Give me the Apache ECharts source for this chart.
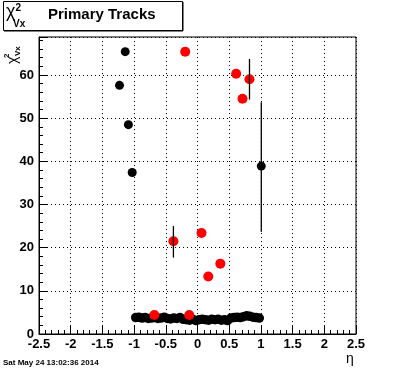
<!DOCTYPE html>
<html><head><meta charset="utf-8">
<script src="https://cdn.jsdelivr.net/npm/echarts@6/dist/echarts.min.js"></script>
<style>html,body{margin:0;padding:0;background:#fff}#c{width:396px;height:372px}</style>
</head><body><div id="c"></div>
<script>
// ---- data ----
const xTicks = [-2.5,-2,-1.5,-1,-0.5,0,0.5,1,1.5,2,2.5];
const yTicks = [0,10,20,30,40,50,60];
// black series (main band)
const bandEta = [-0.975,-0.925,-0.875,-0.825,-0.775,-0.725,-0.675,-0.625,-0.575,-0.525,-0.475,-0.425,-0.375,-0.325,-0.275,-0.225,-0.175,-0.125,-0.075,-0.025,0.025,0.075,0.125,0.175,0.225,0.275,0.325,0.375,0.425,0.475,0.525,0.575,0.625,0.675,0.725,0.775,0.825,0.875,0.925,0.975];
const bandChi = [3.8,3.9,3.7,3.8,3.6,3.7,3.8,3.6,3.7,3.9,3.6,3.5,3.7,3.6,3.8,3.4,3.3,3.2,3.4,3.1,3.3,3.4,3.3,3.2,3.4,3.3,3.4,3.2,3.3,3.1,3.7,3.8,3.9,3.8,4.0,4.2,4.1,3.9,3.8,3.7];
// black outliers
const blackEta = [-1.14,-1.23,-1.09,-1.03,1.006];
const blackChi = [65.4,57.6,48.5,37.4,38.9];
const blackErrEta = [1.006];
const blackErrLo = [23.7];
const blackErrHi = [53.7];
// red series
const redEta = [-0.194,0.61,0.82,0.71,-0.38,0.063,0.36,0.17,-0.68,-0.13];
const redChi = [65.4,60.3,59.0,54.5,21.5,23.4,16.3,13.3,4.4,4.4];
const redErrEta = [0.82,-0.38];
const redErrLo = [54.3,17.7];
const redErrHi = [63.7,25.0];

const FONT = '"Liberation Sans", Arial, sans-serif';
const chart = echarts.init(document.getElementById('c'), null, {renderer:'canvas'});

function pairs(xs, ys){ return xs.map((x,i)=>[x, ys[i]]); }
function errData(xs, lo, hi){ return xs.map((x,i)=>[x, lo[i], hi[i]]); }
function errRender(params, api){
  const p1 = api.coord([api.value(0), api.value(1)]);
  const p2 = api.coord([api.value(0), api.value(2)]);
  return {type:'line', shape:{x1:p1[0], y1:p1[1], x2:p2[0], y2:p2[1]}, style:{stroke:'#000', lineWidth:1.3}};
}
const dot = c => ({color:c, opacity:1, borderWidth:0});

const grid = {left:39, right:40, top:37, bottom:38, show:true, borderColor:'#000', borderWidth:1, backgroundColor:'transparent'};

chart.setOption({
  animation:false,
  grid: grid,
  xAxis: {
    type:'value', min:xTicks[0], max:xTicks[xTicks.length-1], interval:0.5,
    axisLine:{show:true, onZero:false, lineStyle:{color:'#000', width:1}},
    axisTick:{show:true, inside:true, length:8, lineStyle:{color:'#000'}},
    minorTick:{show:true, splitNumber:5, length:4, lineStyle:{color:'#000'}},
    splitLine:{show:true, lineStyle:{color:'#000', type:[1,3], width:1}},
    axisLabel:{color:'#000', fontFamily:FONT, fontWeight:'bold', fontSize:13, margin:4,
      formatter: v => String(+v.toFixed(1))}
  },
  yAxis: {
    type:'value', min:yTicks[0], max:68.8, interval:10,
    axisLine:{show:true, onZero:false, lineStyle:{color:'#000', width:1}},
    axisTick:{show:true, inside:true, length:8, lineStyle:{color:'#000'}},
    minorTick:{show:true, splitNumber:5, length:4, lineStyle:{color:'#000'}},
    splitLine:{show:true, lineStyle:{color:'#000', type:[1,3], width:1}},
    axisLabel:{color:'#000', fontFamily:FONT, fontWeight:'bold', fontSize:13, margin:5,
      formatter: v => (yTicks.indexOf(v) >= 0 ? String(v) : '')}
  },
  series: [
    {type:'scatter', data:pairs(bandEta, bandChi), symbol:'circle', symbolSize:9.5, itemStyle:dot('#000'), z:2},
    {type:'scatter', data:pairs(blackEta, blackChi), symbol:'circle', symbolSize:9, itemStyle:dot('#000'), z:2},
    {type:'custom', data:errData(blackErrEta, blackErrLo, blackErrHi), renderItem:errRender, z:3},
    {type:'scatter', data:pairs(redEta, redChi), symbol:'circle', symbolSize:10, itemStyle:dot('#ff0000'), z:4},
    {type:'custom', data:errData(redErrEta, redErrLo, redErrHi), renderItem:errRender, z:5}
  ],
  graphic: [
    {type:'rect', left:3, top:1, shape:{width:179, height:29}, style:{fill:'#fff', stroke:'#000', lineWidth:1}, z:10},
    {type:'line', shape:{x1:4, y1:31, x2:183, y2:31}, style:{stroke:'#000', lineWidth:1}, z:10},
    {type:'line', shape:{x1:183, y1:2, x2:183, y2:31}, style:{stroke:'#000', lineWidth:1}, z:10},
    {type:'text', left:6, top:3, z:11, style:{
      text:'{c|χ}{s|2}', rich:{c:{fontFamily:FONT, fontSize:18, fill:'#000'}, s:{fontFamily:FONT, fontSize:10, fontWeight:'bold', fill:'#000', verticalAlign:'top', padding:[0,0,8,0]}}
    }},
    {type:'text', left:13, top:19, z:11, style:{text:'Vx', font:'bold 10px '+FONT, fill:'#000'}},
    {type:'text', left:48, top:7, z:11, style:{text:'Primary Tracks', font:'bold 15px '+FONT, fill:'#000'}},
    // y axis name (rotated)
    {type:'group', x:6, y:64, rotation:Math.PI/2, z:11, children:[
      {type:'text', x:0, y:0, style:{text:'χ', font:'14px '+FONT, fill:'#000'}},
      {type:'text', x:6, y:-3, style:{text:'2', font:'bold 8px '+FONT, fill:'#000'}},
      {type:'text', x:8, y:8, style:{text:'Vx', font:'bold 8px '+FONT, fill:'#000'}}
    ]},
    {type:'text', left:346, top:352, z:11, style:{text:'η', font:'14px '+FONT, fill:'#000'}},
    {type:'text', left:3, top:359, z:11, style:{text:'Sat May 24 13:02:36 2014', font:'bold 8px '+FONT, fill:'#000'}}
  ]
});
</script></body></html>
